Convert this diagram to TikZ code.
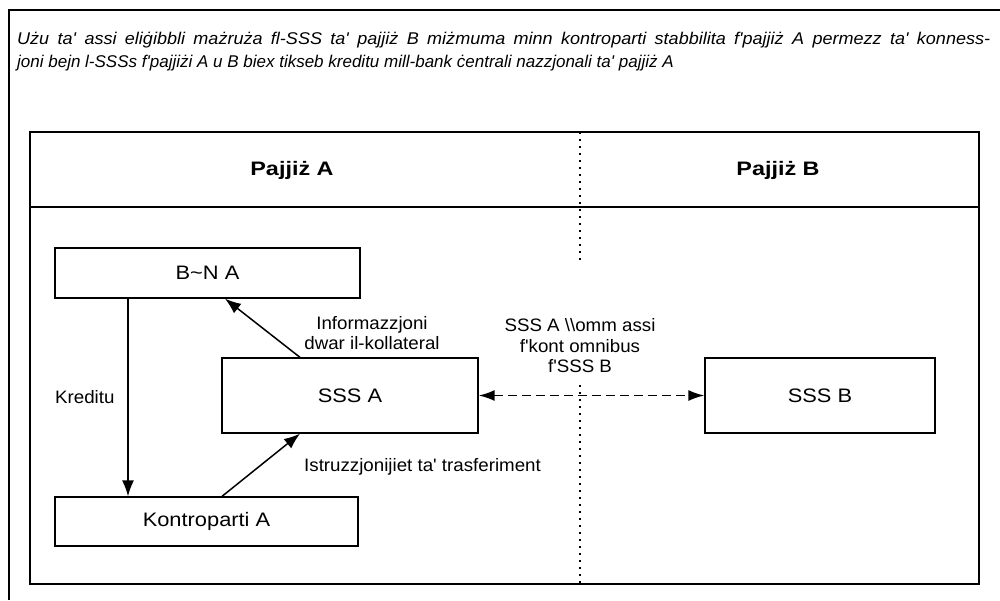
\documentclass[tikz,border=0pt]{standalone}
\usepackage{fontspec}
\setmainfont{Liberation Sans}[Ligatures=TeXOff]
\newfontfamily\boxfnt{Liberation Sans}[Ligatures=TeXOff, FakeStretch=1.12]
\newfontfamily\headfnt{Liberation Sans}[Ligatures=TeXOff, FakeStretch=1.2]
\newfontfamily\lblfnt{Liberation Sans}[Ligatures=TeXOff, FakeStretch=1.04]
\newfontfamily\topfnt{Liberation Sans}[Ligatures=TeXOff]
\newfontfamily\topfntwide{Liberation Sans}[Ligatures=TeXOff, FakeStretch=1.06]
\usetikzlibrary{arrows.meta}
\tikzset{
  box/.style={draw, line width=1.3pt, rectangle, inner sep=0pt, font=\boxfnt\fontsize{19.5}{22}\selectfont},
  lbl/.style={inner sep=0pt, font=\lblfnt\fontsize{18}{20.5}\selectfont},
  arr/.style={line width=1.5pt, -{Latex[length=16pt,width=12pt]}},
  darr/.style={line width=1.7pt, dash pattern=on 9pt off 5pt, {Latex[length=16pt,width=11pt]}-{Latex[length=16pt,width=11pt]}},
  dotline/.style={line width=1.7pt, dash pattern=on 2pt off 5pt},
  head/.style={inner sep=0pt, font=\headfnt\fontsize{19.5}{22}\selectfont\bfseries},
  toptext/.style={inner sep=0pt, anchor=base west, font=\topfnt\fontsize{17}{23}\selectfont\itshape},
  toptextwide/.style={inner sep=0pt, anchor=base west, font=\topfntwide\fontsize{17}{23}\selectfont\itshape}
}
\begin{document}
\begin{tikzpicture}[x=1pt,y=-1pt]
\useasboundingbox[fill=white] (0,0) rectangle (1000,600);
% outer frame
\draw[line width=1.5pt] (9,600) -- (9,10) -- (1000,10);
\node[toptextwide] (t1) at (17,44) {\makebox[973pt][s]{Użu ta' assi eliġibbli mażruża fl-SSS ta' pajjiż B miżmuma minn kontroparti stabbilita f'pajjiż A permezz ta' konness-}};
\node[toptext] (t2) at (17,67) {joni bejn l-SSSs f'pajjiżi A u B biex tikseb kreditu mill-bank ċentrali nazzjonali ta' pajjiż A};
% inner frame
\draw[line width=1.8pt] (30,132) rectangle (979,584);
\draw[line width=1.8pt] (30,207) -- (979,207);
\draw[dotline] (580,132) -- (580,262);
\draw[dotline] (580,385) -- (580,584);
\node[head] (ha) at (292,170) {Pajjiż A};
\node[head] (hb) at (778,170) {Pajjiż B};
% boxes
\node[box, minimum width=305pt, minimum height=50pt] (bna) at (207.5,273) {B\textasciitilde N A};
\node[box, minimum width=256pt, minimum height=75pt] (sssa) at (350,395.5) {SSS A};
\node[box, minimum width=303pt, minimum height=49pt] (konta) at (206.5,521.5) {Kontroparti A};
\node[box, minimum width=230pt, minimum height=75pt] (sssb) at (820,395.5) {SSS B};
% connectors
\coordinate (kx) at (128,0);
\coordinate (i1) at (300,0);
\coordinate (i2) at (225,0);
\coordinate (s1) at (222,0);
\coordinate (s2) at (300,0);
\draw[arr] (bna.south -| kx) -- (konta.north -| kx);
\draw[arr] (sssa.north -| i1) -- (bna.south -| i2);
\draw[arr] (konta.north -| s1) -- (sssa.south -| s2);
\draw[darr] (sssa.east) -- (sssb.west);
% labels
\node[lbl, anchor=west] (lk) at (55,397) {Kreditu};
\node[lbl, align=center] (li) at (372,333) {Informazzjoni\\dwar il-kollateral};
\node[lbl, anchor=west] (ls) at (304,467) {Istruzzjonijiet ta' trasferiment};
\node[lbl, align=center] (lo) at (580,346) {SSS A \textbackslash\textbackslash omm assi\\f'kont omnibus\\f'SSS B};
\end{tikzpicture}
\end{document}
